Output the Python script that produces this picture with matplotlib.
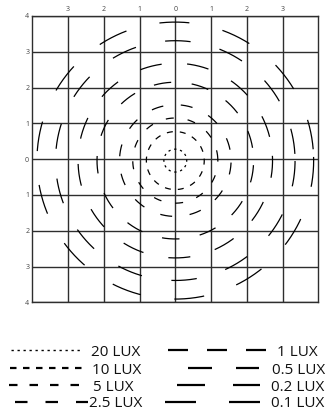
import numpy as np
import matplotlib.pyplot as plt

plt.rcParams['font.family'] = ['Open Sans', 'DejaVu Sans']
plt.rcParams['lines.scale_dashes'] = False

DPI = 100
PT = 72 / DPI  # points per pixel

# isolux contours: label, radius (grid units), first dash angle (deg)
levels = ['20 LUX', '10 LUX', '5 LUX', '2.5 LUX', '1 LUX', '0.5 LUX', '0.2 LUX', '0.1 LUX']
radii = [0.32, 0.81, 1.19, 1.56, 2.19, 2.72, 3.35, 3.87]
phase = [0, -2, 8.6, 17.4, 15.8, 20.6, 9.3, 10.9]

# dash pattern (on, off) in pixels, on the contours and in the key
dashes = [(2.3, 3.7), (6, 7), (8, 14), (12, 17.6), (17.5, 20.6), (22, 25.5), (25.5, 29.9), (30, 34)]
key_dashes = [(2.3, 3.7), (6.5, 6.5), (8.5, 12), (12.5, 18), (20, 19), (24, 24), (28, 28), (31, 33)]

x_ticks = [-3, -2, -1, 0, 1, 2, 3]
y_ticks = [-4, -3, -2, -1, 0, 1, 2, 3, 4]

# key layout in figure pixels: line start, line end, row y, text x
key_x0 = [11, 10, 9, 15, 168, 188, 177, 165]
key_x1 = [83, 82, 83, 88, 266, 259, 260, 260]
key_y = [350, 368, 385, 401.5, 350, 368, 385, 401.5]
key_tx = [91, 92, 93, 89, 277, 272, 271, 271]

W, H = 325, 411
fig = plt.figure(figsize=(W / DPI, H / DPI), dpi=DPI)
ax = fig.add_axes([32.3 / W, 1 - 302.3 / H, 286 / W, 286.3 / H])
ax.set_xlim(-4, 4)
ax.set_ylim(-4, 4)

ax.set_xticks(x_ticks)
ax.set_xticklabels([str(abs(v)) for v in x_ticks])
ax.set_yticks(y_ticks)
ax.set_yticklabels([str(abs(v)) for v in y_ticks])
ax.xaxis.tick_top()
ax.tick_params(length=0, labelsize=5, colors='#444444')
ax.tick_params(axis='x', pad=2.0)
ax.tick_params(axis='y', pad=2.2)
ax.grid(True, color='#2e2e2e', lw=1.0)
ax.set_axisbelow(True)
for sp in ax.spines.values():
    sp.set_color('#2e2e2e')
    sp.set_linewidth(1.0)

px_per_unit = 286 / 8
for r, ph, (on, off) in zip(radii, phase, dashes):
    r_px = r * px_per_unit
    start = np.radians(ph) - (on / 2) / r_px
    t = np.linspace(start, start + 2 * np.pi, 900)
    ax.plot(r * np.cos(t), r * np.sin(t) - 0.04, color='black', lw=0.9,
            linestyle=(0, (on * PT, off * PT)))

# key drawn in pixel coordinates below the grid
lax = fig.add_axes([0, 0, 1, 81 / H])
lax.set_xlim(0, W)
lax.set_ylim(H, H - 81)
lax.axis('off')
for i, lab in enumerate(levels):
    on, off = key_dashes[i]
    lw = 1.0 if i == 0 else 1.6
    lax.plot([key_x0[i], key_x1[i]], [key_y[i], key_y[i]], color='black', lw=lw,
             linestyle=(0, (on * PT, off * PT)))
    lax.text(key_tx[i], key_y[i] + 5.5, lab, fontsize=11, color='#111111',
             ha='left', va='baseline')

fig.savefig('out.png', dpi=DPI)
